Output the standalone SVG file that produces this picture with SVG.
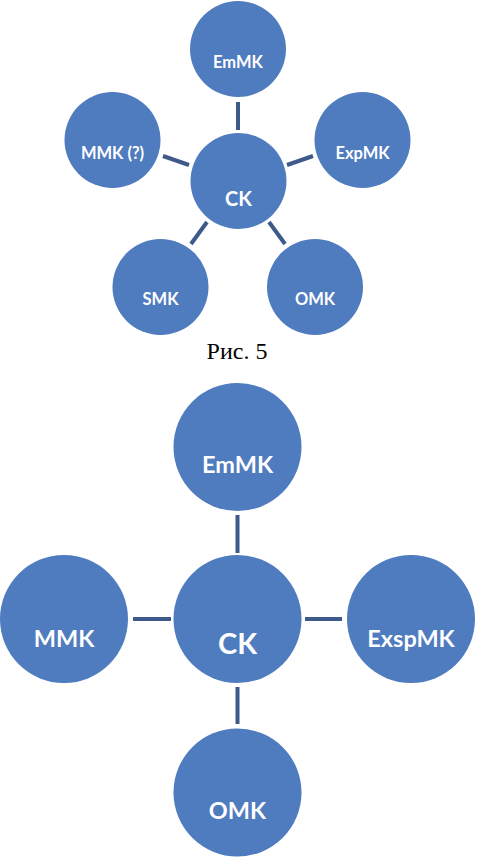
<svg xmlns="http://www.w3.org/2000/svg" width="477" height="860" viewBox="0 0 477 860">
<style>
.n{fill:#4f7bbf}
.c{stroke:#3d5a8b;stroke-width:4;stroke-linecap:butt;fill:none}
.t{fill:#fff;font-family:Lato,"Open Sans",sans-serif;font-weight:bold;text-anchor:middle}
.s{font-size:16.5px}
.b{font-size:23.5px}
.cap{font-family:"Liberation Serif","Times New Roman",serif;font-size:24px;fill:#000;text-anchor:middle}
</style>
<rect width="477" height="860" fill="#fff"/>
<g id="connectors-top">
<line class="c" x1="238" y1="102" x2="238" y2="130"/>
<line class="c" x1="163" y1="156" x2="189" y2="165"/>
<line class="c" x1="287" y1="165" x2="313" y2="156"/>
<line class="c" x1="207" y1="222" x2="191" y2="244"/>
<line class="c" x1="269" y1="222" x2="285" y2="244"/>
</g>
<g id="top-EmMK"><circle class="n" cx="238" cy="49" r="48"/><text class="t s" x="238" y="68">EmMK</text></g>
<g id="top-MMK"><circle class="n" cx="112.5" cy="140" r="48"/><text class="t s" x="112.5" y="159">MMK (?)</text></g>
<g id="top-ExpMK"><circle class="n" cx="362.5" cy="140" r="48"/><text class="t s" x="362.5" y="159">ExpMK</text></g>
<g id="top-SMK"><circle class="n" cx="160.5" cy="287" r="48"/><text class="t s" x="160.5" y="305">SMK</text></g>
<g id="top-OMK"><circle class="n" cx="315" cy="287" r="48"/><text class="t s" x="315" y="305">OMK</text></g>
<g id="top-CK"><circle class="n" cx="238.5" cy="181" r="48"/><text class="t" style="font-size:20px" x="238.5" y="206">CK</text></g>
<text class="cap" x="237" y="359">Рис. 5</text>
<g id="connectors-bottom">
<line class="c" x1="237.5" y1="515" x2="237.5" y2="553"/>
<line class="c" x1="133" y1="619" x2="171" y2="619"/>
<line class="c" x1="305" y1="619" x2="342" y2="619"/>
<line class="c" x1="237.5" y1="687" x2="237.5" y2="724"/>
</g>
<g id="EmMK"><circle class="n" cx="237.5" cy="447" r="64"/><text class="t b" x="237.5" y="473">EmMK</text></g>
<g id="MMK"><circle class="n" cx="64" cy="619" r="64"/><text class="t b" x="64" y="647">MMK</text></g>
<g id="ExspMK"><circle class="n" cx="411" cy="619" r="64"/><text class="t b" x="411" y="647">ExspMK</text></g>
<g id="OMK"><circle class="n" cx="237.5" cy="792.5" r="64"/><text class="t b" x="237.5" y="819">OMK</text></g>
<g id="CK"><circle class="n" cx="237.5" cy="619" r="64"/><text class="t" style="font-size:29px" x="237.5" y="654">CK</text></g>
</svg>
